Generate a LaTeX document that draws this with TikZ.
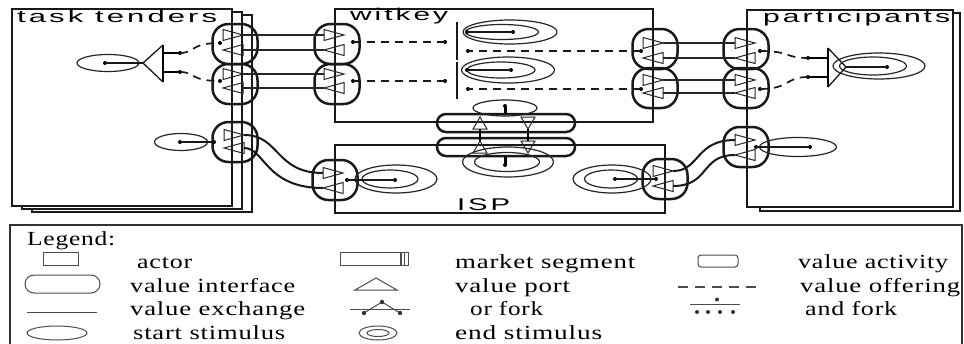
\documentclass[tikz,border=0pt]{standalone}
\usepackage{fontspec}
\usepackage{graphicx}
\setmainfont{Liberation Serif}
\newfontfamily\tagfont[LetterSpace=10]{Liberation Sans}
\newfontfamily\keyfont[LetterSpace=3]{Liberation Serif}
\usetikzlibrary{shapes.geometric}
\newcommand\stretchto[2]{\resizebox{#1}{\height}{#2}}

\tikzset{
  actorbox/.style={draw=black!90, line width=2.6pt, fill=white, rectangle, inner sep=0pt, outer sep=0pt, anchor=north west},
  tag/.style={font=\tagfont\fontsize{17}{17}\selectfont, inner sep=0pt, anchor=base west},
  keytext/.style={font=\keyfont\fontsize{20}{20}\selectfont, inner sep=0pt, anchor=base west},
  viface/.style={draw=black!90, line width=2.5pt, rectangle, rounded corners=16pt, minimum width=45pt, minimum height=40pt, inner sep=0pt, outer sep=0pt},
  hiface/.style={draw=black!90, line width=2.5pt, rectangle, rounded corners=9pt, minimum width=138pt, minimum height=18pt, inner sep=0pt, outer sep=0pt},
  portline/.style={draw=black!85, line width=1pt, line join=miter},
  exch/.style={draw=black!85, line width=1.4pt},
  curvex/.style={draw=black!90, line width=2pt},
  offer/.style={draw=black!90, line width=1.7pt, dash pattern=on 8pt off 6pt},
  stim/.style={draw=black!90, line width=1.7pt},
  stimthick/.style={draw=black, line width=3pt},
  stub/.style={draw=black, line width=2.3pt},
  barline/.style={draw=black!90, line width=2.3pt},
  forkthin/.style={draw=black!90, line width=1.3pt},
  forkbase/.style={draw=black, line width=2.6pt},
  dot/.style={circle, fill=black, inner sep=0pt, minimum size=4pt},
  startstim/.style={ellipse, draw=black!85, line width=1.2pt, inner sep=0pt, outer sep=0pt},
  endout/.style={ellipse, draw=black!85, line width=1.2pt, inner sep=0pt, outer sep=0pt},
  endin/.style={ellipse, draw=black!85, line width=1.2pt, inner sep=0pt, outer sep=0pt},
  legline/.style={draw=black!70, line width=1pt},
  portr/.pic={\draw[portline] (-10,-5.5) -- (10,0) -- (-10,5.5) -- cycle;
              \coordinate (-e) at (10,0); \coordinate (-w) at (-10,0);},
  portl/.pic={\draw[portline] (10,-5.5) -- (-10,0) -- (10,5.5) -- cycle;
              \coordinate (-e) at (10,0); \coordinate (-w) at (-10,0);},
  portu/.pic={\draw[portline] (-7,6) -- (0,-6) -- (7,6) -- cycle;
              \coordinate (-n) at (0,-6); \coordinate (-s) at (0,6);},
  portd/.pic={\draw[portline] (-7,-6) -- (0,6) -- (7,-6) -- cycle;
              \coordinate (-n) at (0,-6); \coordinate (-s) at (0,6);},
}

\begin{document}
\begin{tikzpicture}[x=1pt, y=-1pt]
\useasboundingbox (0,0) rectangle (964,343);

% ---- actors and market segments ----
\node[actorbox, minimum width=220pt, minimum height=197pt] (tt3) at (32,15) {};
\node[actorbox, minimum width=220pt, minimum height=197pt] (tt2) at (22,12) {};
\node[actorbox, minimum width=220pt, minimum height=197pt] (tt) at (12,9) {};
\node[tag] (ttl) at (17,22) {\stretchto{200pt}{task tenders}};

\node[actorbox, minimum width=200pt, minimum height=198pt] (pa2) at (760,13) {};
\node[actorbox, minimum width=206pt, minimum height=197pt] (pa) at (747,10) {};
\node[tag] (pal) at (763,22) {\stretchto{187pt}{participants}};

\node[actorbox, minimum width=318pt, minimum height=113pt] (wk) at (335,9) {};
\node[tag] (wkl) at (350,20) {\stretchto{98pt}{witkey}};

\node[actorbox, minimum width=330pt, minimum height=68pt] (isp) at (335,145) {};
\node[tag] (ispl) at (457,210) {\stretchto{53pt}{ISP}};

% ---- value interfaces ----
\node[viface] (t1) at (235,44) {};
\node[viface] (t2) at (235,84) {};
\node[viface] (w1) at (337,44) {};
\node[viface] (w2) at (337,84) {};
\node[viface] (w3) at (655,49) {};
\node[viface] (w4) at (655,88) {};
\node[viface] (p1) at (746,49) {};
\node[viface] (p2) at (746,88) {};
\node[viface] (tl) at (235,142) {};
\node[viface] (il) at (335,180) {};
\node[viface] (ir) at (665,179) {};
\node[viface] (pl) at (746,147) {};
\node[hiface] (cu) at (506,123) {};
\node[hiface] (cl) at (506,147) {};

% ---- value ports ----
\pic (t1a) at (233,35) {portr}; \pic (t1b) at (233,50) {portl};
\pic (t2a) at (233,74) {portr}; \pic (t2b) at (233,88) {portl};
\pic (w1a) at (334,35) {portr}; \pic (w1b) at (334,50) {portl};
\pic (w2a) at (334,74) {portr}; \pic (w2b) at (334,88) {portl};
\pic (w3a) at (653,43) {portr}; \pic (w3b) at (653,58) {portl};
\pic (w4a) at (653,80) {portr}; \pic (w4b) at (653,93) {portl};
\pic (p1a) at (745,43) {portr}; \pic (p1b) at (745,58) {portl};
\pic (p2a) at (745,80) {portr}; \pic (p2b) at (745,93) {portl};
\pic (tla) at (234,135) {portr}; \pic (tlb) at (234,148) {portl};
\pic (ila) at (333,173) {portr}; \pic (ilb) at (333,188) {portl};
\pic (ira) at (663,171) {portr}; \pic (irb) at (663,186) {portl};
\pic (pla) at (745,140) {portr}; \pic (plb) at (745,155) {portl};
\pic (cua) at (480,123) {portu}; \pic (cub) at (528,123) {portd};
\pic (cla) at (480,147) {portu}; \pic (clb) at (528,147) {portd};

% ---- value exchanges ----
\draw[exch] (t1a-e) -- (w1a-w);
\draw[exch] (t1b-e) -- (w1b-w);
\draw[exch] (t2a-e) -- (w2a-w);
\draw[exch] (t2b-e) -- (w2b-w);
\draw[exch] (w3a-e) -- (p1a-w);
\draw[exch] (w3b-e) -- (p1b-w);
\draw[exch] (w4a-e) -- (p2a-w);
\draw[exch] (w4b-e) -- (p2b-w);
\draw[curvex] (tla-e) .. controls (280,135) and (275,173) .. (ila-w);
\draw[curvex] (tlb-e) .. controls (265,148) and (265,188) .. (ilb-w);
\draw[curvex] (ira-e) .. controls (700,171) and (695,140) .. (pla-w);
\draw[curvex] (irb-e) .. controls (710,186) and (700,155) .. (plb-w);
\draw[stub] (cua-s) -- (cla-n);
\draw[stub] (cub-s) -- (clb-n);

% ---- witkey: offerings joined at two bars ----
\coordinate (b1t) at (457,22); \coordinate (b1b) at (457,60);
\coordinate (b2t) at (457,62); \coordinate (b2b) at (457,99);
\draw[barline] (b1t) -- (b1b);
\draw[barline] (b2t) -- (b2b);
\node[dot] (w1o) at (353,42) {}; \node[dot] (b1l) at (445,42) {};
\node[dot] (w2o) at (353,81) {}; \node[dot] (b2l) at (445,81) {};
\node[dot] (w3o) at (641,51) {}; \node[dot] (b1r) at (468,51) {};
\node[dot] (w4o) at (641,89) {}; \node[dot] (b2r) at (468,89) {};
\draw[offer] (w1o.center) -- (b1l.center);
\draw[offer] (w2o.center) -- (b2l.center);
\draw[offer] (w3o.center) -- (b1r.center);
\draw[offer] (w4o.center) -- (b2r.center);

\node[endout, minimum width=94pt, minimum height=24pt] (e1) at (510,32) {};
\node[endin, minimum width=73pt, minimum height=15pt] (e1i) at (502,32) {};
\node[dot] (e1c) at (513,32) {}; \node[dot] (b1e) at (467,32) {};
\draw[stim] (b1e.center) -- (e1c.center);
\node[endout, minimum width=93pt, minimum height=26pt] (e2) at (508,70) {};
\node[endin, minimum width=68pt, minimum height=16pt] (e2i) at (501,70) {};
\node[dot] (e2c) at (511,70) {}; \node[dot] (b2e) at (467,70) {};
\draw[stim] (b2e.center) -- (e2c.center);

% ---- task tenders: start stimulus and or fork ----
\node[startstim, minimum width=62pt, minimum height=17pt] (s1) at (108,63) {};
\node[dot] (s1c) at (105,63) {};
\coordinate (tfa) at (143,63); \coordinate (tft) at (163,45); \coordinate (tfb) at (163,82);
\draw[forkthin] (tft) -- (tfa) -- (tfb);
\draw[forkbase] (tft) -- (tfb);
\draw[stim] (s1c.center) -- (tfa);
\coordinate (tf1) at (163,53); \node[dot] (tf1e) at (180,53) {};
\coordinate (tf2) at (163,72); \node[dot] (tf2e) at (180,72) {};
\draw[stub] (tf1) -- (tf1e.center);
\draw[stub] (tf2) -- (tf2e.center);
\node[dot] (t1o) at (220,43) {}; \node[dot] (t2o) at (220,81) {};
\draw[offer] (tf1e.center) .. controls (195,53) and (190,43) .. (t1o.center);
\draw[offer] (tf2e.center) .. controls (195,72) and (190,81) .. (t2o.center);

% ---- participants: or fork and end stimulus ----
\node[dot] (p1o) at (760,51) {}; \node[dot] (p2o) at (760,89) {};
\coordinate (pfa) at (846,67); \coordinate (pft) at (828,48); \coordinate (pfb) at (828,87);
\coordinate (pf1) at (828,58); \node[dot] (pf1e) at (808,58) {};
\coordinate (pf2) at (828,77); \node[dot] (pf2e) at (808,77) {};
\draw[offer] (p1o.center) .. controls (790,51) and (785,58) .. (pf1e.center);
\draw[offer] (p2o.center) .. controls (790,89) and (785,77) .. (pf2e.center);
\draw[stub] (pf1e.center) -- (pf1);
\draw[stub] (pf2e.center) -- (pf2);
\node[endout, minimum width=92pt, minimum height=26pt] (e3) at (879,66) {};
\node[endin, minimum width=67pt, minimum height=18pt] (e3i) at (873,66) {};
\draw[forkthin] (pft) -- (pfa) -- (pfb);
\draw[forkbase] (pft) -- (pfb);
\node[dot] (e3c) at (887,67) {};
\draw[stim] (pfa) -- (e3c.center);

% ---- shared interface between witkey and ISP ----
\node[startstim, minimum width=64pt, minimum height=16pt] (s2) at (505,108) {};
\node[dot] (s2c) at (505,106) {};
\draw[stimthick] (s2c.center) -- (s2c |- cu.north);
\node[endout, minimum width=91pt, minimum height=30pt] (e4) at (508,162) {};
\node[endin, minimum width=65pt, minimum height=19pt] (e4i) at (507,162) {};
\node[dot] (e4c) at (505,165) {};
\draw[stimthick] (e4c |- cl.south) -- (e4c.center);

% ---- ISP end stimuli ----
\node[endout, minimum width=82pt, minimum height=28pt] (e5) at (396,179) {};
\node[endin, minimum width=56pt, minimum height=18pt] (e5i) at (390,179) {};
\node[dot] (e5c) at (395,180) {}; \node[dot] (ilo) at (347,180) {};
\draw[stim] (ilo.center) -- (e5c.center);
\node[endout, minimum width=78pt, minimum height=28pt] (e6) at (612,179) {};
\node[endin, minimum width=53pt, minimum height=18pt] (e6i) at (611,179) {};
\node[dot] (e6c) at (615,179) {}; \node[dot] (iro) at (656,179) {};
\draw[stim] (e6c.center) -- (iro.center);

% ---- lower start stimuli ----
\node[startstim, minimum width=77pt, minimum height=19pt] (s3) at (798,147) {};
\node[dot] (s3c) at (810,147) {}; \node[dot] (plo) at (756,147) {};
\draw[stim] (plo.center) -- (s3c.center);
\node[startstim, minimum width=53pt, minimum height=17pt] (s4) at (181,142) {};
\node[dot] (s4c) at (180,142) {}; \node[dot] (tlo) at (214,142) {};
\draw[stim] (s4c.center) -- (tlo.center);

% ---- legend ----
\draw[draw=black!80, line width=1.2pt] (10,350) -- (10,225) -- (962,225) -- (962,350);
\node[keytext] (lg) at (27,245) {\stretchto{88pt}{Legend:}};

\draw[legline] (43,252) rectangle (78,265);
\node[keytext] (k1) at (137,268) {\stretchto{55pt}{actor}};
\draw[legline] (340,252) rectangle (408,265);
\draw[legline, line width=1.6pt] (401,252) -- (401,265);
\draw[legline] (404.5,252) -- (404.5,265);
\node[keytext] (k2) at (455,268) {\stretchto{180pt}{market segment}};
\draw[legline, rounded corners=3pt] (698,255) rectangle (738,267);
\node[keytext] (k3) at (798,268) {\stretchto{150pt}{value activity}};

\draw[legline, rounded corners=9pt] (25,275) rectangle (100,293);
\node[keytext] (k4) at (130,292) {\stretchto{165pt}{value interface}};
\draw[legline] (355,290) -- (376,278) -- (397,290) -- cycle;
\node[keytext] (k5) at (455,292) {\stretchto{115pt}{value port}};
\draw[legline, line width=1.2pt, dash pattern=on 10pt off 7pt] (678,287) -- (756,287);
\node[keytext] (k6) at (800,292) {\stretchto{160pt}{value offering}};

\draw[legline] (27,312) -- (97,312);
\node[keytext] (k7) at (130,315) {\stretchto{175pt}{value exchange}};
\draw[legline] (350,309) -- (410,309);
\draw[legline] (364,313) -- (382,302) -- (400,313);
\fill[black!80] (382,302) circle (2.2pt) (364,313) circle (2.2pt) (400,313) circle (2.2pt);
\node[keytext] (k8) at (470,315) {\stretchto{73pt}{or fork}};
\draw[legline] (690,304) -- (740,304);
\fill[black!80] (717,299.5) circle (2pt) (697,312) circle (2pt) (708,312) circle (2pt)
  (720,312) circle (2pt) (733,312) circle (2pt);
\node[keytext] (k9) at (805,315) {\stretchto{92pt}{and fork}};

\draw[legline] (57,333) ellipse [x radius=30, y radius=7];
\node[keytext] (k10) at (133,339) {\stretchto{152pt}{start stimulus}};
\draw[legline] (378,333) ellipse [x radius=19, y radius=7];
\draw[legline] (378,333) ellipse [x radius=11, y radius=3.5];
\node[keytext] (k11) at (455,339) {\stretchto{147pt}{end stimulus}};
\end{tikzpicture}
\end{document}
